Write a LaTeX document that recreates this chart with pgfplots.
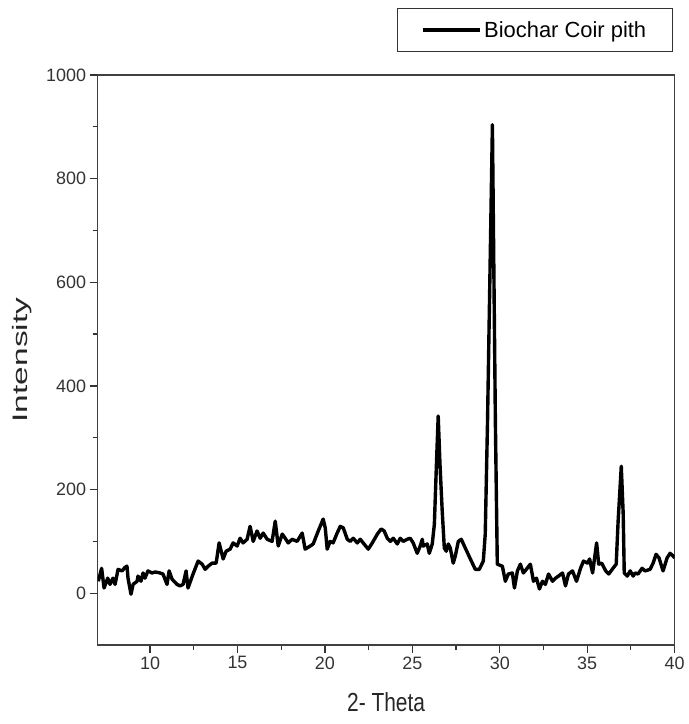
\documentclass[border=0pt]{standalone}
\usepackage{fontspec}
\setmainfont{Liberation Sans}
\usepackage{graphicx}
\usepackage{pgfplots}
\pgfplotsset{compat=1.18}

\begin{document}
\begin{tikzpicture}
\begin{axis}[
    scale only axis,
    width=577bp, height=570bp,
    xmin=7, xmax=40,
    ymin=-100, ymax=1000,
    xtick={10,15,...,40},
    ytick={0,200,...,1000},
    minor x tick num=1,
    minor y tick num=1,
    tick pos=left,
    tick align=outside,
    major tick length=8bp,
    minor tick length=5bp,
    tick style={line width=1.2bp, black!80},
    axis line style={line width=1.2bp, black!75},
    /pgf/number format/assume math mode=true,
    /pgf/number format/1000 sep={},
    tick label style={font=\fontsize{18}{20}\selectfont, text=black!80},
    xlabel={\scalebox{1}[1.25]{2- Theta}},
    ylabel={\scalebox{1.6}[1]{Intensity}},
    label style={font=\fontsize{21}{24}\selectfont, text=black!85},
    xlabel style={yshift=-16bp},
    ylabel style={yshift=8bp},
    legend style={at={(1,1)}, anchor=south east, xshift=-2bp, yshift=23bp,
        draw=black!80, line width=0.8bp, inner xsep=24bp, inner ysep=11bp,
        font=\fontsize{22}{24}\selectfont},
    legend image code/.code={\draw[line width=3.5bp] (0bp,0bp) -- (57bp,0bp);},
]
\addplot[black, line width=3.4bp, line join=round] coordinates {
(7.04,23) (7.23,48) (7.37,10) (7.58,29) (7.71,17) (7.88,29) (8.00,17) (8.17,46)
(8.40,43) (8.57,50) (8.68,52) (8.74,29) (8.91,-2) (9.03,17) (9.26,23) (9.31,33)
(9.48,23) (9.60,39) (9.71,29) (9.88,43) (10.11,39) (10.29,41) (10.57,39) (10.74,37)
(10.97,17) (11.09,43) (11.26,27) (11.54,17) (11.72,14) (11.89,17) (12.06,43) (12.17,10)
(12.46,37) (12.75,62) (12.98,56) (13.15,46) (13.32,52) (13.55,58) (13.78,58) (13.95,97)
(14.18,66) (14.35,81) (14.58,85) (14.75,97) (14.98,91) (15.15,106) (15.32,97) (15.55,104)
(15.72,129) (15.90,100) (16.12,120) (16.30,106) (16.47,116) (16.70,104) (16.98,100) (17.16,139)
(17.33,91) (17.56,114) (17.73,106) (17.90,97) (18.13,104) (18.41,100) (18.70,116) (18.87,85)
(19.16,91) (19.33,95) (19.62,120) (19.90,143) (20.02,126) (20.13,85) (20.30,100) (20.47,97)
(20.70,116) (20.88,129) (21.05,126) (21.28,104) (21.45,100) (21.62,106) (21.85,97) (22.02,104)
(22.19,97) (22.48,85) (22.71,97) (23.00,114) (23.22,124) (23.39,120) (23.57,106) (23.74,100)
(23.91,106) (24.14,95) (24.31,106) (24.48,100) (24.71,104) (24.88,106) (25.05,97) (25.28,77)
(25.45,91) (25.57,104) (25.62,91) (25.85,95) (25.97,77) (26.14,95) (26.26,133) (26.38,250)
(26.48,342) (26.58,250) (26.71,158) (26.83,87) (26.94,81) (27.06,95) (27.17,87) (27.34,58)
(27.46,72) (27.63,100) (27.80,104) (28.03,87) (28.32,66) (28.60,46) (28.83,46) (29.06,62)
(29.17,114) (29.30,330) (29.58,904) (29.75,330) (29.86,56) (30.15,52) (30.32,23) (30.49,37)
(30.72,39) (30.84,10) (31.01,43) (31.18,56) (31.35,39) (31.52,46) (31.75,56) (31.93,23)
(32.10,29) (32.27,8) (32.44,23) (32.61,17) (32.79,37) (33.02,23) (33.19,29) (33.36,33)
(33.59,39) (33.76,14) (33.93,37) (34.16,43) (34.39,23) (34.62,48) (34.79,62) (35.02,58)
(35.14,66) (35.31,39) (35.54,97) (35.66,56) (35.83,58) (36.06,43) (36.23,37) (36.43,46)
(36.66,56) (36.77,139) (36.95,245) (37.06,153) (37.12,39) (37.29,33) (37.46,43) (37.63,33)
(37.74,39) (37.91,37) (38.14,48) (38.31,43) (38.60,46) (38.77,58) (38.94,75) (39.11,68)
(39.34,43) (39.57,68) (39.74,77) (39.91,72) (40.00,68)
};
\addlegendentry{Biochar Coir pith\hspace{20bp}}
\end{axis}
\pgfresetboundingbox
\path ([shift={(-97.6bp,-79bp)}]current axis.south west) rectangle ([shift={(14bp,75bp)}]current axis.north east);
\end{tikzpicture}
\end{document}
